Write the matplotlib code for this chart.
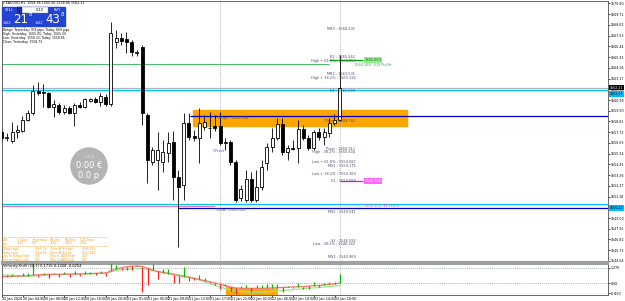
import numpy as np
import matplotlib.pyplot as plt
from matplotlib.patches import Rectangle, Ellipse

# XAUUSD H1 bars
opens = [1557.74, 1557.13, 1556.82, 1557.74, 1557.84, 1558.96, 1559.67, 1561.90, 1561.70, 1561.70,
         1560.28, 1560.48, 1559.77, 1560.18, 1559.67, 1560.48, 1560.28, 1560.89, 1561.09, 1560.79,
         1561.30, 1560.58, 1566.88, 1567.29, 1567.19, 1566.88, 1565.77, 1566.37, 1559.47, 1554.69,
         1554.89, 1554.69, 1555.60, 1556.72, 1553.17, 1552.35, 1558.65, 1557.33, 1557.13, 1558.25,
         1558.15, 1558.35, 1558.35, 1556.62, 1556.72, 1554.69, 1551.03, 1550.83, 1552.96, 1550.83,
         1552.15, 1554.59, 1556.22, 1557.13, 1558.55, 1555.71, 1556.11, 1556.11, 1558.04, 1557.13,
         1556.11, 1557.74, 1557.23, 1557.64, 1558.65, 1558.96]
highs = [1558.15, 1557.64, 1558.76, 1558.45, 1559.36, 1559.97, 1562.51, 1562.82, 1562.62, 1561.80,
         1560.99, 1560.68, 1560.48, 1560.38, 1560.68, 1560.79, 1561.19, 1561.19, 1561.30, 1561.70,
         1561.60, 1568.91, 1568.10, 1567.80, 1567.90, 1567.09, 1566.07, 1566.58, 1559.67, 1556.22,
         1557.74, 1556.93, 1557.74, 1557.84, 1553.88, 1559.67, 1559.67, 1557.94, 1560.18, 1559.47,
         1559.77, 1559.47, 1559.77, 1557.13, 1556.93, 1554.89, 1552.35, 1553.88, 1553.67, 1553.88,
         1554.89, 1556.62, 1558.15, 1559.16, 1559.16, 1556.42, 1556.93, 1558.96, 1558.45, 1557.43,
         1557.94, 1558.15, 1558.15, 1559.16, 1559.57, 1565.56]
lows = [1556.72, 1556.82, 1556.62, 1557.13, 1557.74, 1558.86, 1559.47, 1561.50, 1560.28, 1560.18,
        1559.26, 1559.57, 1559.57, 1559.57, 1558.35, 1560.18, 1560.18, 1560.79, 1560.68, 1560.38,
        1560.38, 1560.38, 1566.27, 1566.58, 1565.77, 1565.46, 1565.46, 1558.45, 1552.56, 1554.39,
        1551.85, 1553.67, 1554.69, 1550.83, 1546.06, 1550.83, 1556.93, 1556.82, 1554.59, 1557.94,
        1557.13, 1557.84, 1556.42, 1555.91, 1554.39, 1550.63, 1550.73, 1550.63, 1550.63, 1550.63,
        1551.85, 1553.88, 1555.71, 1556.93, 1555.40, 1554.89, 1555.91, 1554.59, 1556.93, 1555.91,
        1555.91, 1556.93, 1556.42, 1557.23, 1558.45, 1558.86]
closes = [1557.13, 1557.23, 1557.74, 1557.94, 1558.96, 1559.67, 1561.90, 1561.70, 1561.80, 1560.28,
          1560.58, 1559.77, 1560.18, 1559.67, 1560.48, 1560.28, 1561.09, 1561.09, 1560.79, 1561.40,
          1560.58, 1567.80, 1567.29, 1566.98, 1566.88, 1565.87, 1565.87, 1559.67, 1554.89, 1555.91,
          1555.91, 1555.71, 1556.62, 1553.17, 1552.15, 1558.65, 1557.23, 1557.13, 1558.65, 1558.76,
          1558.10, 1558.15, 1556.62, 1556.72, 1554.69, 1550.83, 1551.95, 1552.96, 1550.83, 1552.15,
          1554.18, 1556.22, 1557.13, 1558.55, 1555.71, 1556.11, 1556.06, 1558.04, 1557.13, 1556.11,
          1557.74, 1557.23, 1557.74, 1558.65, 1558.96, 1562.21]

time_labels = ["20 Jan 2020", "20 Jan 04:00", "20 Jan 08:00", "20 Jan 12:00", "20 Jan 16:00",
               "20 Jan 20:00", "21 Jan 01:00", "21 Jan 05:00", "21 Jan 09:00", "21 Jan 13:00",
               "21 Jan 17:00", "21 Jan 21:00", "22 Jan 02:00", "22 Jan 06:00", "22 Jan 10:00",
               "22 Jan 14:00", "22 Jan 18:00"]

price_ticks = [1570.80, 1569.71, 1568.62, 1567.53, 1566.44, 1565.35, 1564.26, 1563.17, 1562.08,
               1560.99, 1559.90, 1558.81, 1557.72, 1556.63, 1555.54, 1554.45, 1553.36, 1552.27,
               1551.18, 1550.09, 1549.00, 1547.91, 1546.82, 1545.73, 1544.64]

pivot_names = ["MR3", "R2", "High + 61.8%", "MR2", "High + 38.2%", "R1", "T Pivot", "Pivot",
               "High - 38.2%", "Low + 61.8%", "MS1", "Low + 38.2%", "S1", "MS2", "S2",
               "Low - 38.2%", "MS3"]
pivot_values = [1568.101, 1565.262, 1564.853, 1563.531, 1563.126, 1561.803, 1558.762, 1555.911,
                1555.604, 1554.587, 1554.175, 1553.369, 1552.658, 1549.541, 1546.592, 1546.262,
                1544.969]

y_high = 1559.364
y_low = 1550.120
bid = 1562.21
cyan_levels = [1562.01, 1550.42]
green_level = 1564.65
green_target = 1565.053
magenta_target = 1552.760
zone_top, zone_bottom = 1559.97, 1558.35

# Velocity(Hull) sub window
red_line = [0.55, 0.55, 0.56, 0.58, 0.60, 0.62, 0.66, 0.70, 0.72, 0.73, 0.74, 0.74, 0.75,
            0.75, 0.76, 0.77, 0.78, 0.80, 0.82, 0.84, 0.86, 1.05, 1.20, 1.30, 1.38, 1.42, 1.45,
            1.40, 1.25, 1.10, 0.98, 0.88, 0.80, 0.72, 0.62, 0.55, 0.48, 0.40, 0.30, 0.20, 0.10,
            0.00, -0.10, -0.22, -0.35, -0.42, -0.45, -0.45, -0.46, -0.45, -0.45, -0.44, -0.42,
            -0.40, -0.38, -0.36, -0.34, -0.32, -0.30, -0.27, -0.24, -0.20, -0.16, -0.12, -0.08, 0.00]
green_line = [0.70, 0.68, 0.65, 0.62, 0.60, 0.58, 0.60, 0.64, 0.68, 0.70, 0.72, 0.73, 0.74,
              0.75, 0.76, 0.77, 0.78, 0.79, 0.80, 0.81, 0.82, 0.95, 1.05, 1.12, 1.18, 1.22, 1.25,
              1.22, 1.15, 1.05, 0.98, 0.92, 0.85, 0.78, 0.70, 0.62, 0.52, 0.40, 0.25, 0.10, -0.05,
              -0.20, -0.35, -0.48, -0.58, -0.66, -0.72, -0.76, -0.78, -0.78, -0.77, -0.75, -0.72,
              -0.68, -0.64, -0.60, -0.56, -0.52, -0.48, -0.45, -0.42, -0.38, -0.34, -0.30, -0.26, -0.20]
vel_hist = [-0.15, 0.1, 0.2, 0.1, 0.25, 0.2, 1.0, -0.2, 0.15, -0.3, 0.15, -0.25, 0.2, -0.2, 0.25,
            -0.15, 0.2, 0.1, -0.15, 0.2, -0.25, 1.2, 0.3, -0.2, -0.25, -0.3, 0.1, -2.2, -1.4, 0.5,
            -0.6, 0.3, 0.35, -0.7, -0.6, 0.8, -0.3, -0.15, 0.4, 0.2, -0.1, -0.15, -0.4, 0.1, -0.3,
            -0.5, 0.2, 0.3, -0.3, 0.25, 0.3, 0.35, 0.3, 0.3, -0.35, 0.1, -0.05, 0.35, -0.2, -0.2,
            0.3, -0.1, 0.15, 0.2, 0.15, 0.8]

W, H = 625, 301
fig = plt.figure(figsize=(W / 100, H / 100), dpi=100)


def fx(x):
    return x / W


def fy(y):
    return 1 - y / H


XL = (0.058, 116.6)
ax = fig.add_axes([fx(2), fy(262), fx(606), 261 / H])
ax.set_xlim(*XL)
ax.set_ylim(1544.53, 1571.05)

o = np.array(opens); h = np.array(highs); l = np.array(lows); c = np.array(closes)
idx = np.arange(len(o))
up = c >= o
ax.vlines(idx, l, h, color='black', lw=0.6, zorder=2)
ax.bar(idx[up], np.maximum(c[up] - o[up], 0.02), bottom=o[up], width=0.6,
       color='white', edgecolor='black', lw=0.6, zorder=3)
ax.bar(idx[~up], c[~up] - o[~up], bottom=o[~up], width=0.6,
       color='black', edgecolor='black', lw=0.6, zorder=3)

# zone and lines
ax.add_patch(Rectangle((36.8, zone_bottom), 41.1, zone_top - zone_bottom,
                       color='#ffa500', zorder=1))
ax.hlines(y_high, 36.2, XL[1], color='#0000c0', lw=0.9, zorder=4)
ax.hlines(y_low + 0.1, 0, 41, color='#e07ac0', lw=0.9, zorder=1)
ax.hlines(y_low - 0.15, 34, XL[1], color='#0000c0', lw=0.9, zorder=1)
for lv in cyan_levels:
    ax.axhline(lv, color='#00bfff', lw=0.9, zorder=1)
ax.axhline(bid, color='#a9b8c8', lw=0.9, zorder=1)
ax.hlines(green_level, 0, 63, color='#4cbb6c', lw=0.8, zorder=1)
ax.hlines(green_target, 63, 69.5, color='#00b000', lw=0.9, zorder=1)
ax.hlines(magenta_target, 65, 69.5, color='#ff00ff', lw=0.9, zorder=1)
for xv in [42, 65]:
    ax.axvline(xv, color='#a0a0a0', lw=0.6, ls=(0, (1, 1.5)), zorder=1)

lab = dict(fontsize=2.5, color='#4a4a6a', va='center', zorder=5)
for name, val in zip(pivot_names, pivot_values):
    ax.text(68.0, val + 0.1, f"{name} : {val:.3f}", ha='right', **lab)
ax.text(41.5, y_high - 0.2, f"Y High : {y_high:.3f}", ha='left', **lab)
ax.text(41.0, y_low - 0.35, f"Y Low : {y_low:.3f}", ha='left', **lab)
ax.text(40.5, 1555.85, "Y Pivot", ha='left', fontsize=2.5, color='#3050d0', va='center')
ax.text(69.7, green_target, f"{green_target:.3f}", fontsize=2.5, va='center', color='#206020',
        bbox=dict(boxstyle='square,pad=0.15', fc='#90ee90', ec='none'))
ax.text(67.8, green_target - 0.55, "1564.280  109 Pts/Hr", fontsize=2.5, va='center', color='#30b050')
ax.text(69.7, magenta_target, f"{magenta_target:.3f}", fontsize=2.5, va='center', color='white',
        bbox=dict(boxstyle='square,pad=0.15', fc='#ff66ff', ec='none'))
ax.text(69.7, y_low + 0.05, f"{y_low:.3f}  96 Pts/Hr", fontsize=2.5, va='center', color='#e040c0')

# price scale
ax.yaxis.tick_right()
ax.set_yticks(price_ticks)
ax.set_yticklabels([f"{p:.2f}" for p in price_ticks])
ax.tick_params(axis='y', labelsize=2.3, length=1.2, width=0.5, pad=0.5)
ax.set_xticks([])
ytr = ax.get_yaxis_transform()
ax.text(1.003, bid + 0.05, f"{bid:.2f}", transform=ytr, fontsize=2.3, color='white', va='center',
        bbox=dict(boxstyle='square,pad=0.2', fc='black', ec='none'), zorder=6, clip_on=False)
for lv in cyan_levels:
    ax.text(1.003, lv - 0.4, f"{lv:.2f}", transform=ytr, fontsize=2.3, color='black', va='center',
            bbox=dict(boxstyle='square,pad=0.2', fc='#00bfff', ec='none'), zorder=6, clip_on=False)
for s in ax.spines.values():
    s.set_linewidth(0.6)
    s.set_color('#505050')
ax.spines['bottom'].set_color('#a0a0a0')
ax.spines['bottom'].set_linewidth(1.5)

# indicator window
ix = fig.add_axes([fx(2), fy(295), fx(606), 31 / H])
ix.set_xlim(*XL)
ix.set_ylim(-1.02, 1.616)
rl = np.array(red_line); gl = np.array(green_line); vh = np.array(vel_hist)
ix.fill_between(idx[43:54], -1.02, rl[43:54], color='#ffa500', lw=0, zorder=1)
ix.axhline(1.276, color='#8a9a9a', lw=0.6, ls=(0, (1, 1.5)))
ix.axhline(0, color='#8a9a9a', lw=0.6, ls=(0, (1, 1.5)))
ix.plot(idx, gl, color='#90ee90', lw=0.9, zorder=2)
ix.plot(idx, rl, color='#ff7070', lw=0.9, zorder=2)
ix.vlines(idx, rl, rl + vh, colors=np.where(vh >= 0, '#00c000', '#ff2020'), lw=0.9, zorder=3)
for xv in [42, 65]:
    ix.axvline(xv, color='#a0a0a0', lw=0.6, ls=(0, (1, 1.5)), zorder=1)
ix.yaxis.tick_right()
ix.set_yticks([1.276, 0.0, -0.85])
ix.set_yticklabels(["1.276", "0.00", "-0.850"])
ix.set_xticks(idx[::4][:len(time_labels)])
ix.set_xticklabels(time_labels, ha='left')
ix.tick_params(labelsize=2.4, length=1.2, width=0.5, pad=0.5)
ix.tick_params(axis='y', labelsize=2.3)
for s in ix.spines.values():
    s.set_linewidth(0.6)
    s.set_color('#505050')
ix.spines['top'].set_color('#a0a0a0')
ix.spines['top'].set_linewidth(1.5)
fig.text(fx(3), fy(266), "Velocity(Hull) (20,1) 0.1715 0.1328 -0.0254", fontsize=2.6, va='center')

# header and trade panel
fig.text(fx(3), fy(3), f"\u25BE XAUUSD,H1  {opens[-1]:.2f} {highs[-1]:.2f} {lows[-1]:.2f} {closes[-1]:.2f}",
         fontsize=2.3, va='center')
fig.patches.append(Rectangle((fx(2), fy(26)), fx(31), 19 / H, transform=fig.transFigure, color='#2343d3'))
fig.patches.append(Rectangle((fx(34), fy(26)), fx(31), 19 / H, transform=fig.transFigure, color='#2343d3'))
fig.patches.append(Rectangle((fx(21), fy(13)), fx(27), 6 / H, transform=fig.transFigure, fc='white', ec='#808080', lw=0.3))
fig.patches.append(Rectangle((fx(17), fy(13)), fx(4), 6 / H, transform=fig.transFigure, color='#1a2a9a'))
fig.text(fx(5), fy(10), "SELL", fontsize=2.6, color='white', va='center')
fig.text(fx(54), fy(10), "BUY", fontsize=2.6, color='white', va='center')
fig.text(fx(40), fy(10), "0.12", fontsize=2.6, color='black', va='center', ha='center')
fig.text(fx(3), fy(22.5), "1562", fontsize=2.4, color='white', va='center')
fig.text(fx(13), fy(19.5), "21", fontsize=8.5, color='white', va='center')
fig.text(fx(28.8), fy(15), "8", fontsize=3.8, color='white', va='center')
fig.text(fx(35), fy(22.5), "1562", fontsize=2.4, color='white', va='center')
fig.text(fx(45), fy(19.5), "43", fontsize=8.5, color='white', va='center')
fig.text(fx(60.8), fy(15), "8", fontsize=3.8, color='white', va='center')

info = ["~~ Daily Range ~~",
        "Range: Yesterday: 974 pips; Today: 669 pips",
        "High: Yesterday: 1565.05; Today: 1565.56",
        "Low: Yesterday: 1556.12; Today: 1558.86",
        "Close: Yesterday: 1558.73"]
for k, t in enumerate(info):
    fig.text(fx(3), fy(26 + 4 * k), t, fontsize=2.2, va='center',
             color='#3050a0' if k == 0 else 'black')

# profit bubble
fig.patches.append(Ellipse((fx(89), fy(166)), 36 / W, 36 / H, transform=fig.transFigure, color='#b4b4b4'))
fig.text(fx(89), fy(157.5), "GOLD", fontsize=2.8, color='#e0e0e0', ha='center', va='center')
fig.text(fx(89), fy(165), "0.00 \u20ac", fontsize=6, color='white', ha='center', va='center')
fig.text(fx(89), fy(175), "0.0 p", fontsize=6, color='white', ha='center', va='center')

# ADR table
orng = '#f0a020'
for yy in [237, 246]:
    fig.lines.append(plt.Line2D([fx(2), fx(107)], [fy(yy), fy(yy)], transform=fig.transFigure,
                                color=orng, lw=0.5, ls=(0, (1, 1))))
adr_head = ["ADR:", "5 Days", "Yesterday", "Weekly", "Monthly", "100 Days"]
adr_pips = ["Pips:", "1211", "907", "3242", "3416", "3354"]
for k, (a, b) in enumerate(zip(adr_head, adr_pips)):
    xx = [2, 17, 32, 50, 65, 80][k]
    fig.text(fx(xx), fy(240), a, fontsize=2.2, color=orng, va='center')
    fig.text(fx(xx), fy(243.5), b, fontsize=2.2, color=orng, va='center')
adr_rows = [("Today High:", "1565.56", "Zone ADR High:", "1566.213"),
            ("Today Low:", "1558.86", "Zone ADR Low:", "1552.983"),
            ("Pips to Today High:", "335", "Pips to ADR High:", "400"),
            ("Pips to Today Low:", "335", "Pips to ADR Low:", "923")]
for k, row in enumerate(adr_rows):
    for t, xx in zip(row, [2, 35, 50, 82]):
        fig.text(fx(xx), fy(249 + 3.6 * k), t, fontsize=2.2, color=orng, va='center')

fig.savefig('out.png', dpi=100, facecolor='white')
